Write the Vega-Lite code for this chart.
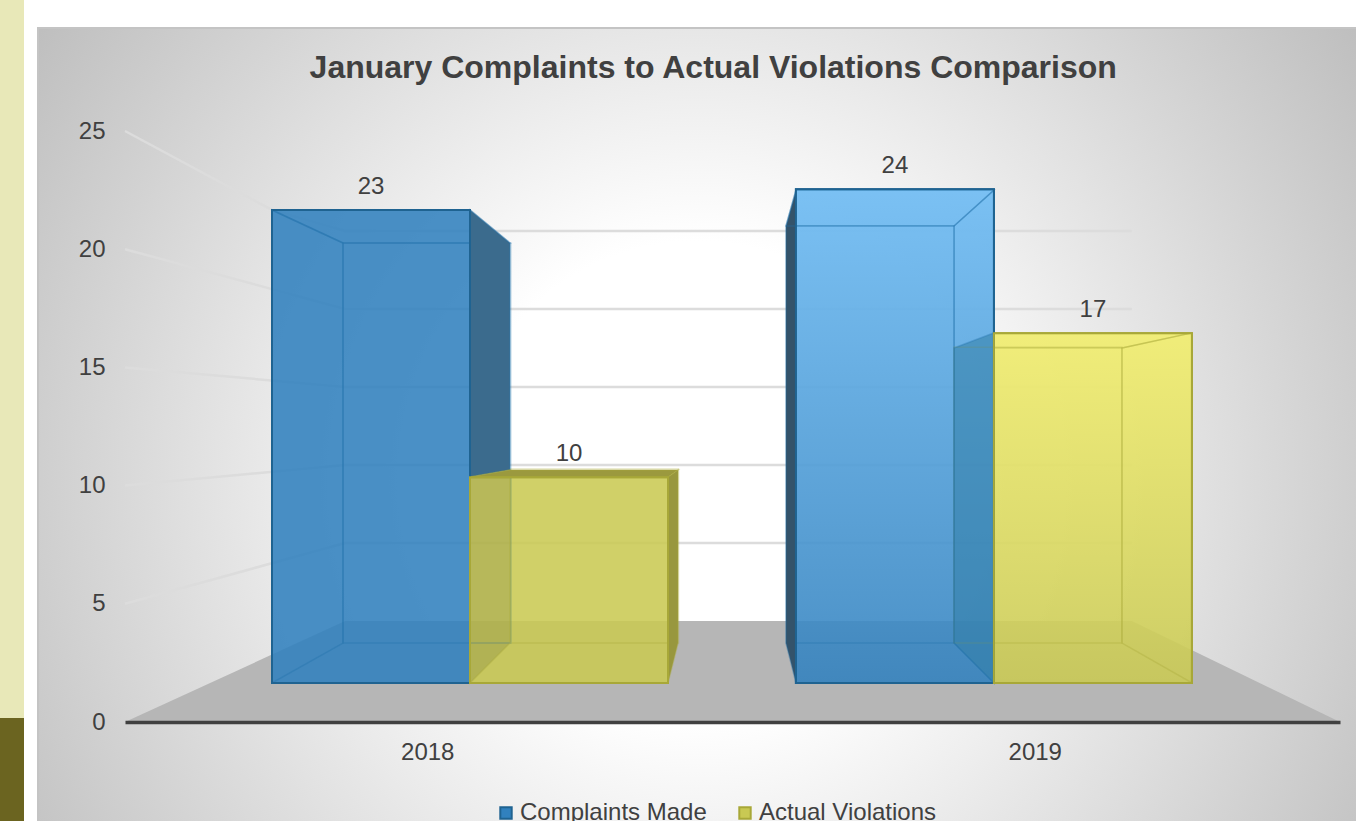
{
"$schema":"https://vega.github.io/schema/vega-lite/v6.json",
"width":1325,"height":1325,
"autosize":{"type":"none"},
"padding":{"left":38,"top":28,"right":0,"bottom":0},
"background":"#ffffff",
"datasets":{
"headline":[{"label":"January Complaints to Actual Violations Comparison","across":51.23,"level":27.65}],
"results":[
{"year":"2018","series":"Complaints Made","value":23},
{"year":"2018","series":"Actual Violations","value":10},
{"year":"2019","series":"Complaints Made","value":24},
{"year":"2019","series":"Actual Violations","value":17}
],
"strip":[
{"zone":"upper","left":-2.883,"right":-1.062,"top":30.54,"bottom":0.17},
{"zone":"lower","left":-2.883,"right":-1.062,"top":0.17,"bottom":-4.19}
],
"floor":[
{"across":6.6,"level":0,"base":0},
{"across":23.29,"level":4.27,"base":0},
{"across":83,"level":4.27,"base":0},
{"across":98.79,"level":0,"base":0}
],
"walls":[
{"tick":25,"across":6.6,"level":25},{"tick":25,"across":17.75,"level":21.66},{"tick":25,"across":23.29,"level":20.77},{"tick":25,"across":83,"level":20.77},
{"tick":20,"across":6.6,"level":20},{"tick":20,"across":23.29,"level":17.47},{"tick":20,"across":83,"level":17.47},
{"tick":15,"across":6.6,"level":15},{"tick":15,"across":23.29,"level":14.17},{"tick":15,"across":83,"level":14.17},
{"tick":10,"across":6.6,"level":10},{"tick":10,"across":23.29,"level":10.87},{"tick":10,"across":83,"level":10.87},
{"tick":5,"across":6.6,"level":5},{"tick":5,"across":23.29,"level":7.57},{"tick":5,"across":83,"level":7.57}
],
"faces":[
{"face":"C18 left","series":"Complaints Made","across":17.75,"upper":21.66,"lower":1.65},
{"face":"C18 left","series":"Complaints Made","across":23.14,"upper":20.26,"lower":3.34},
{"face":"C18 top","series":"Complaints Made","across":17.75,"upper":21.66,"lower":21.66},
{"face":"C18 top","series":"Complaints Made","across":23.14,"upper":21.66,"lower":20.26},
{"face":"C18 top","series":"Complaints Made","across":32.78,"upper":21.66,"lower":20.26},
{"face":"C18 top","series":"Complaints Made","across":35.81,"upper":20.26,"lower":20.26},
{"face":"C18 right","series":"Complaints Made","across":32.78,"upper":21.66,"lower":10.36},
{"face":"C18 right","series":"Complaints Made","across":35.81,"upper":20.26,"lower":10.66},
{"face":"A18 left","series":"Actual Violations","across":32.78,"upper":10.36,"lower":1.65},
{"face":"A18 left","series":"Actual Violations","across":35.81,"upper":10.66,"lower":3.34},
{"face":"A18 top","series":"Actual Violations","across":32.78,"upper":10.36,"lower":10.36},
{"face":"A18 top","series":"Actual Violations","across":35.81,"upper":10.66,"lower":10.36},
{"face":"A18 top","series":"Actual Violations","across":47.8,"upper":10.66,"lower":10.36},
{"face":"A18 top","series":"Actual Violations","across":48.56,"upper":10.66,"lower":10.66},
{"face":"A18 right","series":"Actual Violations","across":47.8,"upper":10.36,"lower":1.65},
{"face":"A18 right","series":"Actual Violations","across":48.56,"upper":10.66,"lower":3.34},
{"face":"C19 left","series":"Complaints Made","across":56.75,"upper":20.98,"lower":3.34},
{"face":"C19 left","series":"Complaints Made","across":57.51,"upper":22.5,"lower":1.65},
{"face":"C19 top","series":"Complaints Made","across":56.75,"upper":20.98,"lower":20.98},
{"face":"C19 top","series":"Complaints Made","across":57.51,"upper":22.5,"lower":20.98},
{"face":"C19 top","series":"Complaints Made","across":69.5,"upper":22.5,"lower":20.98},
{"face":"C19 top","series":"Complaints Made","across":72.53,"upper":22.5,"lower":22.5},
{"face":"C19 right","series":"Complaints Made","across":69.5,"upper":20.98,"lower":3.34},
{"face":"C19 right","series":"Complaints Made","across":72.53,"upper":22.5,"lower":1.65},
{"face":"A19 left","series":"Complaints Made","across":69.5,"upper":15.82,"lower":3.34},
{"face":"A19 left","series":"Complaints Made","across":72.53,"upper":16.46,"lower":1.65},
{"face":"A19 top","series":"Actual Violations","across":72.53,"upper":16.46,"lower":15.82},
{"face":"A19 top","series":"Actual Violations","across":82.25,"upper":16.46,"lower":15.82},
{"face":"A19 top","series":"Actual Violations","across":87.56,"upper":16.46,"lower":16.46},
{"face":"A19 right","series":"Actual Violations","across":82.25,"upper":15.82,"lower":3.34},
{"face":"A19 right","series":"Actual Violations","across":87.56,"upper":16.46,"lower":1.65}
]
},
"view":{"stroke":"#c4c4c4","strokeWidth":2,"fill":{"gradient":"radial","x1":0.4975,"y1":0.341,"r1":0,"x2":0.4975,"y2":0.341,"r2":0.6,"stops":[{"offset":0,"color":"#ffffff"},{"offset":0.3,"color":"#ffffff"},{"offset":1,"color":"#bfbfbf"}]}},
"config":{"font":"Liberation Sans"},
"resolve":{"scale":{"x":"independent","y":"independent","xOffset":"independent","fill":"independent","stroke":"independent","color":"independent"},"axis":{"x":"independent","y":"independent"},"legend":{"fill":"independent","stroke":"independent"}},
"layer":[
{"data":{"name":"strip"},"mark":{"type":"rect","clip":false},
 "encoding":{
  "x":{"field":"left","type":"quantitative","scale":{"domain":[0,100],"range":[0,1318],"nice":false,"zero":false},"axis":null},
  "x2":{"field":"right"},
  "y":{"field":"top","type":"quantitative","scale":{"domain":[0,25],"range":[694,103],"nice":false,"zero":false},"axis":null},
  "y2":{"field":"bottom"},
  "fill":{"field":"zone","type":"nominal","scale":{"domain":["upper","lower"],"range":["#e8e8b8","#6b6420"]},"legend":null}
 }},
{"data":{"name":"floor"},"mark":{"type":"area","color":"#b6b6b6"},
 "encoding":{
  "x":{"field":"across","type":"quantitative","scale":{"domain":[0,100],"range":[0,1318],"nice":false,"zero":false},"axis":null},
  "y":{"field":"level","type":"quantitative","stack":null,"scale":{"domain":[0,25],"range":[694,103],"nice":false,"zero":false},"axis":null},
  "y2":{"field":"base"}
 }},
{"data":{"name":"walls"},"mark":{"type":"line","strokeWidth":2.5,"color":"#dcdcdc"},
 "encoding":{
  "x":{"field":"across","type":"quantitative","scale":{"domain":[0,100],"range":[0,1318],"nice":false,"zero":false},"axis":null},
  "y":{"field":"level","type":"quantitative","scale":{"domain":[0,25],"range":[694,103],"nice":false,"zero":false},"axis":null},
  "detail":{"field":"tick"}
 }},
{"data":{"name":"results"},"mark":{"type":"bar","opacity":0},
 "encoding":{
  "x":{"field":"year","type":"nominal","scale":{"type":"band","domain":["2018","2019"],"range":[87,1302],"paddingInner":0,"paddingOuter":0},
   "axis":{"title":null,"orient":"bottom","offset":-631,"domain":true,"domainColor":"#404040","domainWidth":3.5,"ticks":false,"labelAngle":0,"labelFont":"Liberation Sans","labelFontSize":24,"labelColor":"#404040","labelPadding":18,"labelOffset":-1,"grid":false,"zindex":1}},
  "y":{"field":"value","type":"quantitative","scale":{"domain":[0,25],"range":[694,103],"nice":false},
   "axis":{"title":null,"orient":"left","offset":-70,"domain":false,"ticks":false,"grid":false,"values":[0,5,10,15,20,25],"labelFont":"Liberation Sans","labelFontSize":24,"labelColor":"#404040","labelPadding":3}}
 }},
{"data":{"name":"results"},"mark":{"type":"bar","fillOpacity":0.88,"strokeWidth":2},
 "encoding":{
  "x":{"field":"year","type":"nominal","scale":{"type":"band","domain":["2018","2019"],"range":[234,1154],"paddingInner":0.244,"paddingOuter":0},"axis":null},
  "xOffset":{"field":"series","type":"nominal","scale":{"type":"band","domain":["Complaints Made","Actual Violations"],"range":[0,396],"paddingInner":0,"paddingOuter":0}},
  "y":{"field":"value","type":"quantitative","stack":null,"scale":{"domain":[0,25],"range":[655,140.75],"nice":false},"axis":null},
  "fill":{"field":"series","type":"nominal","scale":{"domain":["Complaints Made","Actual Violations"],"range":["#3181be","#c9c953"]},
   "legend":{"title":null,"orient":"none","legendX":456,"legendY":773,"direction":"horizontal","columns":2,"symbolType":"square","symbolSize":130,"symbolStrokeWidth":2,"symbolOpacity":1,"labelFont":"Liberation Sans","labelFontSize":24,"labelColor":"#404040","labelOffset":2,"labelLimit":400,"columnPadding":26}},
  "stroke":{"field":"series","type":"nominal","scale":{"domain":["Complaints Made","Actual Violations"],"range":["#1f6391","#a8a838"]},
   "legend":{"title":null,"orient":"none","legendX":456,"legendY":773,"direction":"horizontal","columns":2,"symbolType":"square","symbolSize":130,"symbolStrokeWidth":2,"symbolOpacity":1,"labelFont":"Liberation Sans","labelFontSize":24,"labelColor":"#404040","labelOffset":2,"labelLimit":400,"columnPadding":26}}
 }},
{"data":{"name":"results"},"transform":[{"filter":"datum.year==='2019' && datum.series==='Complaints Made'"}],
 "mark":{"type":"bar","color":{"gradient":"linear","x1":0,"y1":0,"x2":0,"y2":1,"stops":[{"offset":0,"color":"rgba(135,205,255,0.8)"},{"offset":1,"color":"rgba(135,205,255,0)"}]}},
 "encoding":{
  "x":{"field":"year","type":"nominal","scale":{"type":"band","domain":["2018","2019"],"range":[234,1154],"paddingInner":0.244,"paddingOuter":0},"axis":null},
  "xOffset":{"field":"series","type":"nominal","scale":{"type":"band","domain":["Complaints Made","Actual Violations"],"range":[0,396],"paddingInner":0,"paddingOuter":0}},
  "y":{"field":"value","type":"quantitative","stack":null,"scale":{"domain":[0,25],"range":[655,140.75],"nice":false},"axis":null}
 }},
{"data":{"name":"results"},"transform":[{"filter":"datum.year==='2019' && datum.series==='Actual Violations'"}],
 "mark":{"type":"bar","color":{"gradient":"linear","x1":0,"y1":0,"x2":0,"y2":1,"stops":[{"offset":0,"color":"rgba(255,250,130,0.7)"},{"offset":1,"color":"rgba(255,250,130,0)"}]}},
 "encoding":{
  "x":{"field":"year","type":"nominal","scale":{"type":"band","domain":["2018","2019"],"range":[234,1154],"paddingInner":0.244,"paddingOuter":0},"axis":null},
  "xOffset":{"field":"series","type":"nominal","scale":{"type":"band","domain":["Complaints Made","Actual Violations"],"range":[0,396],"paddingInner":0,"paddingOuter":0}},
  "y":{"field":"value","type":"quantitative","stack":null,"scale":{"domain":[0,25],"range":[655,140.75],"nice":false},"axis":null}
 }},
{"data":{"name":"results"},"mark":{"type":"bar","fill":"transparent","strokeWidth":1.5,"strokeOpacity":0.3},
 "encoding":{
  "x":{"field":"year","type":"nominal","scale":{"type":"band","domain":["2018","2019"],"range":[305,1084],"paddingInner":0.243,"paddingOuter":0},"axis":null},
  "xOffset":{"field":"series","type":"nominal","scale":{"type":"band","domain":["Complaints Made","Actual Violations"],"range":[0,335.5],"paddingInner":0,"paddingOuter":0}},
  "y":{"field":"value","type":"quantitative","stack":null,"scale":{"domain":[0,25],"range":[615,180.25],"nice":false},"axis":null},
  "stroke":{"field":"series","type":"nominal","scale":{"domain":["Complaints Made","Actual Violations"],"range":["#1f6fa8","#a8a838"]},"legend":null}
 }},
{"data":{"name":"faces"},"mark":{"type":"area","strokeWidth":1.5,"strokeOpacity":0.35},
 "encoding":{
  "x":{"field":"across","type":"quantitative","scale":{"domain":[0,100],"range":[0,1318],"nice":false,"zero":false},"axis":null},
  "y":{"field":"upper","type":"quantitative","stack":null,"scale":{"domain":[0,25],"range":[694,103],"nice":false,"zero":false},"axis":null},
  "y2":{"field":"lower"},
  "fill":{"field":"face","type":"nominal","legend":null,"scale":{"domain":["C18 left","C18 top","C18 right","A18 left","A18 top","A18 right","C19 left","C19 top","C19 right","A19 left","A19 top","A19 right"],"range":["rgba(0,0,0,0)","rgba(0,0,0,0)","#3b6b8d","rgba(125,130,60,0.3)","#9b993e","#98973e","#34536a","rgba(0,0,0,0)","rgba(0,0,0,0)","rgba(50,125,165,0.55)","rgba(0,0,0,0)","rgba(0,0,0,0)"]}},
  "stroke":{"field":"series","type":"nominal","legend":null,"scale":{"domain":["Complaints Made","Actual Violations"],"range":["#1f6fa8","#a8a838"]}}
 }},
{"data":{"name":"results"},"mark":{"type":"bar","fill":"transparent","strokeWidth":2},
 "encoding":{
  "x":{"field":"year","type":"nominal","scale":{"type":"band","domain":["2018","2019"],"range":[234,1154],"paddingInner":0.244,"paddingOuter":0},"axis":null},
  "xOffset":{"field":"series","type":"nominal","scale":{"type":"band","domain":["Complaints Made","Actual Violations"],"range":[0,396],"paddingInner":0,"paddingOuter":0}},
  "y":{"field":"value","type":"quantitative","stack":null,"scale":{"domain":[0,25],"range":[655,140.75],"nice":false},"axis":null},
  "stroke":{"field":"series","type":"nominal","scale":{"domain":["Complaints Made","Actual Violations"],"range":["#1f6391","#a8a838"]},"legend":null}
 }},
{"data":{"name":"results"},"mark":{"type":"text","font":"Liberation Sans","fontSize":24,"color":"#404040","dy":-23,"baseline":"middle"},
 "encoding":{
  "x":{"field":"year","type":"nominal","scale":{"type":"band","domain":["2018","2019"],"range":[234,1154],"paddingInner":0.244,"paddingOuter":0},"axis":null},
  "xOffset":{"field":"series","type":"nominal","scale":{"type":"band","domain":["Complaints Made","Actual Violations"],"range":[0,396],"paddingInner":0,"paddingOuter":0}},
  "y":{"field":"value","type":"quantitative","stack":null,"scale":{"domain":[0,25],"range":[655,140.75],"nice":false},"axis":null},
  "text":{"field":"value","type":"quantitative"}
 }},
{"data":{"name":"headline"},"mark":{"type":"text","font":"Liberation Sans","fontSize":32,"fontWeight":"bold","color":"#404040","baseline":"middle","align":"center"},
 "encoding":{
  "x":{"field":"across","type":"quantitative","scale":{"domain":[0,100],"range":[0,1318],"nice":false,"zero":false},"axis":null},
  "y":{"field":"level","type":"quantitative","scale":{"domain":[0,25],"range":[694,103],"nice":false,"zero":false},"axis":null},
  "text":{"field":"label","type":"nominal"}
 }}
]
}
